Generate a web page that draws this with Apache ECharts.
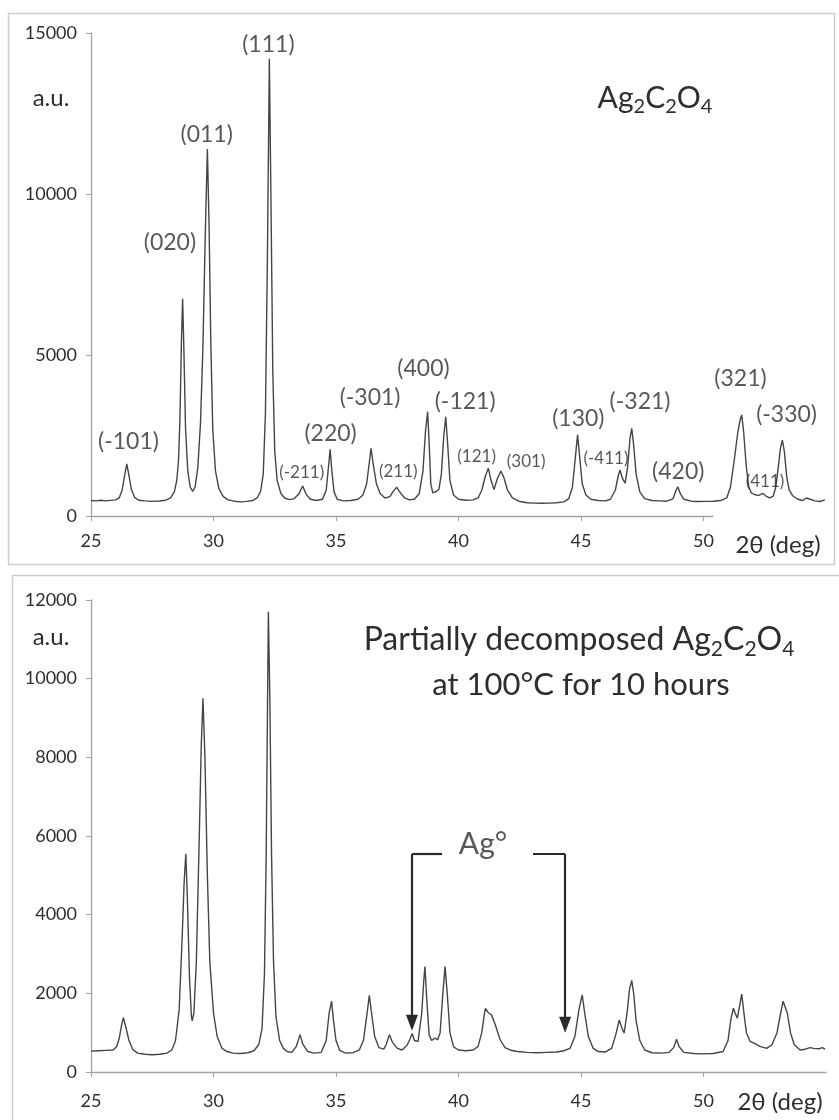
<!DOCTYPE html>
<html>
<head>
<meta charset="utf-8">
<title>Ag2C2O4 XRD</title>
<script src="https://cdn.jsdelivr.net/npm/echarts@6/dist/echarts.min.js"></script>
<style>
  html, body { margin: 0; padding: 0; background: #fff; }
  #chart { width: 839px; height: 1120px; }
</style>
</head>
<body>
<div id="chart"></div>
<script>
// [2θ (deg), intensity (a.u.)]
var pristine = [
  [25.0,480],[25.2,470],[25.4,490],[25.6,470],[25.8,485],[26.0,500],[26.15,560],[26.27,800],[26.37,1250],
  [26.46,1620],[26.55,1250],[26.65,820],[26.78,580],[26.95,490],[27.2,470],[27.5,455],[27.8,465],[28.05,490],
  [28.25,560],[28.4,750],[28.5,1100],[28.57,1700],[28.63,3000],[28.69,5400],[28.74,6750],[28.79,5200],
  [28.86,2700],[28.95,1400],[29.05,900],[29.15,760],[29.25,900],[29.36,1500],[29.47,2900],[29.57,5300],
  [29.66,8600],[29.75,11400],[29.82,9000],[29.89,5400],[29.97,2700],[30.08,1400],[30.22,850],[30.4,600],
  [30.6,500],[30.85,460],[31.1,440],[31.35,455],[31.6,480],[31.78,560],[31.92,760],[32.03,1300],[32.12,3200],
  [32.2,8000],[32.28,14200],[32.35,9500],[32.42,4500],[32.5,2000],[32.6,1100],[32.75,700],[32.9,560],
  [33.1,510],[33.3,540],[33.48,680],[33.64,930],[33.78,680],[33.95,520],[34.2,480],[34.45,520],[34.6,800],
  [34.69,1500],[34.76,2070],[34.83,1400],[34.92,750],[35.05,520],[35.3,470],[35.6,480],[35.9,520],[36.1,650],
  [36.25,1000],[36.35,1600],[36.43,2100],[36.52,1600],[36.65,1000],[36.8,700],[37.0,560],[37.2,600],
  [37.35,780],[37.48,890],[37.6,750],[37.8,560],[38.0,500],[38.2,520],[38.4,700],[38.55,1400],[38.65,2600],
  [38.74,3240],[38.8,2300],[38.87,1000],[38.95,720],[39.1,760],[39.2,830],[39.3,1300],[39.4,2500],[39.48,3080],
  [39.56,2200],[39.65,1100],[39.8,650],[40.0,520],[40.3,490],[40.6,500],[40.8,560],[40.95,800],[41.1,1250],
  [41.22,1480],[41.33,1100],[41.45,820],[41.58,1150],[41.73,1400],[41.85,1200],[42.0,800],[42.2,560],
  [42.5,450],[42.8,410],[43.1,400],[43.4,395],[43.7,400],[44.0,410],[44.3,440],[44.5,540],[44.65,900],
  [44.78,1900],[44.86,2520],[44.95,1800],[45.05,1000],[45.2,650],[45.4,520],[45.7,480],[46.0,470],[46.2,520],
  [46.4,800],[46.52,1250],[46.59,1430],[46.7,1150],[46.8,1020],[46.9,1500],[47.0,2400],[47.07,2720],
  [47.15,2200],[47.25,1300],[47.4,750],[47.6,540],[47.9,480],[48.2,470],[48.5,460],[48.75,530],[48.88,800],
  [48.95,910],[49.05,700],[49.2,520],[49.5,460],[49.8,450],[50.1,455],[50.4,460],[50.7,480],[50.95,560],
  [51.1,900],[51.25,1700],[51.4,2600],[51.5,3000],[51.56,3140],[51.64,2600],[51.75,1500],[51.85,900],
  [51.95,720],[52.1,660],[52.25,640],[52.43,700],[52.55,620],[52.7,560],[52.85,620],[52.95,900],[53.05,1500],
  [53.14,2100],[53.22,2360],[53.3,2000],[53.4,1200],[53.5,800],[53.65,620],[53.85,520],[54.05,480],
  [54.2,560],[54.35,520],[54.55,470],[54.75,450],[54.95,500]
];

// same sample after 10 h at 100°C
var decomposed = [
  [25.0,530],[25.3,540],[25.6,550],[25.9,560],[26.05,650],[26.15,850],[26.25,1200],[26.32,1380],[26.42,1150],
  [26.55,800],[26.7,580],[26.9,480],[27.2,450],[27.5,440],[27.8,450],[28.1,480],[28.3,560],[28.45,800],
  [28.6,1600],[28.72,3400],[28.8,4800],[28.87,5550],[28.93,4500],[29.02,2400],[29.1,1400],[29.13,1300],
  [29.2,1500],[29.3,2800],[29.42,6000],[29.5,8300],[29.57,9500],[29.65,8000],[29.75,5000],[29.85,2800],
  [30.0,1500],[30.15,900],[30.35,600],[30.55,520],[30.8,480],[31.1,470],[31.4,490],[31.65,540],[31.85,700],
  [31.98,1100],[32.08,2500],[32.15,5500],[32.2,9000],[32.24,11700],[32.3,9500],[32.37,5500],[32.45,2800],
  [32.55,1400],[32.7,800],[32.85,600],[33.0,520],[33.2,500],[33.38,650],[33.53,950],[33.65,700],[33.85,520],
  [34.1,480],[34.4,500],[34.6,800],[34.72,1500],[34.82,1800],[34.9,1300],[35.0,800],[35.15,550],[35.4,480],
  [35.7,490],[35.95,560],[36.12,800],[36.25,1400],[36.36,1950],[36.45,1500],[36.58,900],[36.75,620],
  [36.95,580],[37.05,700],[37.18,950],[37.3,760],[37.5,600],[37.7,560],[37.9,680],[38.03,850],[38.11,980],
  [38.2,800],[38.35,780],[38.5,1500],[38.58,2300],[38.63,2680],[38.7,1900],[38.8,950],[38.9,800],[39.04,860],
  [39.15,820],[39.25,1000],[39.35,1900],[39.45,2680],[39.54,2000],[39.65,1000],[39.8,640],[40.0,560],
  [40.3,540],[40.6,560],[40.8,650],[40.95,1000],[41.05,1450],[41.1,1620],[41.2,1520],[41.35,1450],[41.5,1200],
  [41.7,820],[41.9,620],[42.1,560],[42.4,520],[42.8,500],[43.2,490],[43.6,500],[44.0,510],[44.3,540],
  [44.55,600],[44.75,900],[44.92,1600],[45.05,1960],[45.15,1500],[45.3,900],[45.5,600],[45.7,520],[46.0,510],
  [46.25,600],[46.42,950],[46.56,1320],[46.68,1100],[46.76,990],[46.88,1500],[46.98,2100],[47.07,2330],
  [47.15,2000],[47.25,1300],[47.4,800],[47.6,560],[47.9,490],[48.3,480],[48.6,500],[48.78,620],[48.9,830],
  [49.0,650],[49.2,500],[49.6,470],[50.0,460],[50.4,470],[50.8,520],[51.0,800],[51.12,1350],[51.22,1620],
  [51.3,1480],[51.38,1370],[51.48,1700],[51.56,1980],[51.65,1500],[51.75,1000],[51.9,780],[52.1,720],
  [52.3,650],[52.58,600],[52.8,700],[53.0,1000],[53.15,1500],[53.25,1800],[53.33,1850],[53.42,1500],
  [53.55,1000],[53.7,700],[53.94,560],[54.15,580],[54.35,620],[54.5,600],[54.7,590],[54.85,620],[54.96,580]
];

// Miller indices written above the pristine peaks
var hklText = ['(-101)', '(020)', '(011)', '(111)', '(-211)', '(220)', '(-301)', '(211)', '(400)', '(-121)',
  '(121)', '(301)', '(130)', '(-411)', '(-321)', '(420)', '(321)', '(411)', '(-330)'];
var hklAt = [26.53, 28.22, 29.72, 32.24, 33.6, 34.78, 36.39, 37.54, 38.57, 40.27,
  40.74, 42.76, 44.89, 46.02, 47.41, 48.97, 51.51, 52.51, 53.39];
var hklHeight = [2310, 8480, 11830, 14630, 1345, 2570, 3690, 1380, 4590, 3550,
  1860, 1690, 3030, 1790, 3550, 1380, 4280, 1070, 3140];
var smallHkl = ['(-211)', '(211)', '(121)', '(301)', '(-411)', '(411)'];

// metallic silver reflections marked in the decomposed sample
var agPeaks = [38.1, 44.35];
var agArrowTip = [1250, 1200];
var agBracketTop = 5540;
var agGapEdges = [39.33, 43.04];
var agLabelAt = [41.0, 5780];

var xTicks = [25, 30, 35, 40, 45, 50];

var FONT = 'Lato, "Open Sans", sans-serif';
var TXT = '#2e2e2e';
var AXC = '#a2a2a2';

function xAxis(grid, showLine, margin) {
  return {
    type: 'value', gridIndex: grid, min: 25, max: 55,
    axisLine: { show: showLine, lineStyle: { color: AXC, width: 1.3 } },
    axisTick: { show: true, length: 5, customValues: xTicks, lineStyle: { color: AXC } },
    axisLabel: { customValues: xTicks, color: TXT, fontSize: 18, fontFamily: FONT, margin: margin },
    splitLine: { show: false }
  };
}

function yAxis(grid, max, step) {
  return {
    type: 'value', gridIndex: grid, min: 0, max: max, interval: step,
    axisLine: { show: true, lineStyle: { color: AXC, width: 1.3 } },
    axisTick: { show: true, length: 5, lineStyle: { color: AXC } },
    axisLabel: { color: TXT, fontSize: 18, fontFamily: FONT, margin: 14,
      formatter: function (v) { return String(v); } },
    splitLine: { show: false }
  };
}

function sub(parts, big, small) {
  // rich text with chemical subscripts
  return {
    text: parts,
    rich: {
      n: { fontSize: big, lineHeight: big + 8, fontFamily: FONT, fill: TXT },
      s: { fontSize: small, lineHeight: small - 4, verticalAlign: 'bottom', fontFamily: FONT, fill: TXT }
    }
  };
}

var hklData = hklText.map(function (t, i) {
  var small = smallHkl.indexOf(t) >= 0;
  return { name: t, value: [hklAt[i], hklHeight[i]], label: { fontSize: small ? 17 : 23 } };
});

var option = {
  animation: false,
  backgroundColor: '#fff',
  grid: [
    { left: 91, top: 33, width: 735, height: 483 },
    { left: 91, top: 600, width: 735, height: 472 }
  ],
  xAxis: [xAxis(0, false, 16), xAxis(1, true, 20)],
  yAxis: [yAxis(0, 15000, 5000), yAxis(1, 12000, 2000)],
  series: [
    {
      type: 'line', xAxisIndex: 0, yAxisIndex: 0, data: pristine,
      showSymbol: false, silent: true,
      lineStyle: { color: '#454545', width: 1.4 },
      markLine: {
        silent: true, symbol: ['none', 'none'], label: { show: false },
        lineStyle: { color: AXC, width: 1.3, type: 'solid' },
        data: [[{ coord: [25, 0] }, { coord: [50.4, 0] }]]
      }
    },
    {
      type: 'scatter', xAxisIndex: 0, yAxisIndex: 0, data: hklData,
      symbolSize: 1, itemStyle: { color: 'rgba(0,0,0,0)' }, silent: true, z: 5,
      label: { show: true, position: 'inside', formatter: '{b}', color: TXT, fontFamily: FONT }
    },
    {
      type: 'line', xAxisIndex: 1, yAxisIndex: 1, data: decomposed,
      showSymbol: false, silent: true,
      lineStyle: { color: '#454545', width: 1.4 },
      markLine: {
        silent: true, symbol: ['none', 'none'], label: { show: false },
        lineStyle: { color: '#2a2a2a', width: 2.2, type: 'solid' },
        data: [
          [{ coord: [agPeaks[0], agBracketTop] }, { coord: [agGapEdges[0], agBracketTop] }],
          [{ coord: [agPeaks[0], agBracketTop] },
           { coord: [agPeaks[0], agArrowTip[0]], symbol: 'triangle', symbolSize: [12, 16] }],
          [{ coord: [agGapEdges[1], agBracketTop] }, { coord: [agPeaks[1], agBracketTop] }],
          [{ coord: [agPeaks[1], agBracketTop] },
           { coord: [agPeaks[1], agArrowTip[1]], symbol: 'triangle', symbolSize: [12, 16] }]
        ]
      }
    },
    {
      type: 'scatter', xAxisIndex: 1, yAxisIndex: 1,
      data: [{ name: 'Ag°', value: agLabelAt }],
      symbolSize: 1, itemStyle: { color: 'rgba(0,0,0,0)' }, silent: true, z: 5,
      label: { show: true, position: 'inside', formatter: '{b}', color: TXT, fontFamily: FONT, fontSize: 30 }
    }
  ],
  graphic: [
    { type: 'rect', silent: true, z: -10, shape: { x: 8.5, y: 13.5, width: 826, height: 551 },
      style: { fill: 'none', stroke: '#cdcdcd', lineWidth: 1.5 } },
    { type: 'rect', silent: true, z: -10, shape: { x: 12.5, y: 575.5, width: 840, height: 560 },
      style: { fill: 'none', stroke: '#cdcdcd', lineWidth: 1.5 } },
    { type: 'text', x: 51, y: 98, silent: true,
      style: { text: 'a.u.', fontSize: 24, fontFamily: FONT, fill: TXT, align: 'center', verticalAlign: 'middle' } },
    { type: 'text', x: 51, y: 637, silent: true,
      style: { text: 'a.u.', fontSize: 24, fontFamily: FONT, fill: TXT, align: 'center', verticalAlign: 'middle' } },
    { type: 'text', x: 778, y: 545, silent: true,
      style: { text: '2θ (deg)', fontSize: 24, fontFamily: FONT, fill: TXT, align: 'center', verticalAlign: 'middle' } },
    { type: 'text', x: 780, y: 1102, silent: true,
      style: { text: '2θ (deg)', fontSize: 24, fontFamily: FONT, fill: TXT, align: 'center', verticalAlign: 'middle' } },
    { type: 'text', x: 655, y: 98, silent: true,
      style: Object.assign(sub('{n|Ag}{s|2}{n|C}{s|2}{n|O}{s|4}', 30, 20), { align: 'center', verticalAlign: 'middle' }) },
    { type: 'text', x: 579, y: 640, silent: true,
      style: Object.assign(sub('{n|Partially decomposed Ag}{s|2}{n|C}{s|2}{n|O}{s|4}', 32, 21),
        { align: 'center', verticalAlign: 'middle' }) },
    { type: 'text', x: 581, y: 685, silent: true,
      style: { text: 'at 100°C for 10 hours', fontSize: 31, fontFamily: FONT, fill: TXT, align: 'center', verticalAlign: 'middle' } }
  ]
};

var chart = echarts.init(document.getElementById('chart'));
chart.setOption(option);
</script>
</body>
</html>
